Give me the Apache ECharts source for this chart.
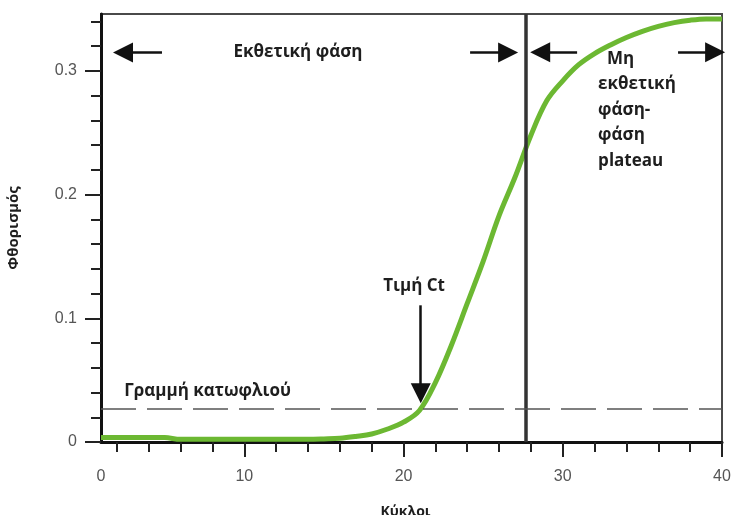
<!DOCTYPE html>
<html>
<head>
<meta charset="utf-8">
<script src="https://cdn.jsdelivr.net/npm/echarts@6/dist/echarts.min.js"></script>
<style>
html,body{margin:0;padding:0;background:#fff;}
#chart{width:732px;height:515px;}
</style>
</head>
<body>
<div id="chart"></div>
<script>
// ---- data ----
const cycles = [1,2,3,4,5,6,7,8,9,10,11,12,13,14,15,16,17,18,19,20,21,22,23,24,25,26,27,28,29,30,31,32,33,34,35,36,37,38,39,40];
const fluorescence = [0.0037,0.0037,0.0037,0.0037,0.0036,0.0022,0.0022,0.0022,0.0022,0.0022,0.0022,0.0022,0.0022,0.0022,0.0025,0.003,0.0045,0.0065,0.0105,0.016,0.0255,0.048,0.078,0.112,0.146,0.183,0.214,0.248,0.276,0.292,0.305,0.314,0.321,0.327,0.332,0.336,0.339,0.341,0.342,0.342];

const xTickValues = [2,4,6,8,10,12,14,16,18,20,22,24,26,28,30,32,34,36,38,40];
const xMajorTickValues = [10,20,30,40];
const xLabelValues = [1,10,20,30,40];
const xLabelTexts = ['0','10','20','30','40'];

const yTickValues = [0,0.02,0.04,0.06,0.08,0.1,0.12,0.14,0.16,0.18,0.2,0.22,0.24,0.26,0.28,0.3,0.32,0.34];
const yMajorTickValues = [0,0.1,0.2,0.3];
const yLabelValues = [0,0.1,0.2,0.3];
const yLabelTexts = ['0','0.1','0.2','0.3'];

const thresholdValue = 0.027;
const ctCycle = 21.08;
const phaseBoundaryCycle = 27.7;

const xAxisName = 'Κύκλοι';
const yAxisName = 'Φθορισμός';
const expPhaseText = 'Εκθετική φάση';
const plateauText = '  Μη\nεκθετική\nφάση-\nφάση\nplateau';
const ctText = 'Τιμή Ct';
const thresholdText = 'Γραμμή κατωφλιού';

// ---- chart ----
const chart = echarts.init(document.getElementById('chart'), null, {renderer: 'canvas'});
const annFont = {fontFamily: '"Open Sans", sans-serif', fontWeight: 'bold', fontSize: 17, color: '#1e1e1e'};
const arrowStyle = {color: '#111', width: 2.5, type: 'solid'};

function arrow(c1, v1, c2, v2) {
  return [
    {coord: [c1, v1], symbol: 'none', lineStyle: arrowStyle},
    {coord: [c2, v2], symbol: 'triangle', symbolSize: 20}
  ];
}
function textMark(text, c, v, align) {
  return {
    coord: [c, v], symbol: 'circle', symbolSize: 1,
    itemStyle: {color: 'rgba(0,0,0,0)'},
    label: Object.assign({show: true, formatter: text, position: 'inside', align: align || 'center', verticalAlign: 'middle', lineHeight: 25.5}, annFont)
  };
}

const xMin = 1, xMax = 40, yMin = 0, yMax = 0.346;

chart.setOption({
  animation: false,
  backgroundColor: '#fff',
  grid: {left: 101, right: 10, top: 14, bottom: 73, containLabel: false, outerBoundsMode: 'none',
    show: true, borderColor: '#4a4a4a', borderWidth: 2, backgroundColor: 'rgba(0,0,0,0)'},
  xAxis: [
    {
      type: 'value', min: xMin, max: xMax, position: 'bottom',
      name: xAxisName, nameLocation: 'middle', nameGap: 63,
      nameTextStyle: {fontFamily: '"Open Sans", sans-serif', fontWeight: 'bold', fontSize: 14, color: '#1e1e1e', padding: [0, 12, 0, 0]},
      axisLine: {show: true, onZero: false, lineStyle: {color: '#111', width: 3}},
      axisTick: {show: true, customValues: xTickValues, length: 10, lineStyle: {color: '#222', width: 2}},
      axisLabel: {show: true, customValues: xLabelValues, margin: 27, fontFamily: '"Liberation Sans", Arial, sans-serif', fontSize: 16, color: '#555',
        formatter: function (v) { const i = xLabelValues.indexOf(v); return i >= 0 ? xLabelTexts[i] : ''; }},
      splitLine: {show: false}
    },
    {
      type: 'value', min: xMin, max: xMax, position: 'bottom', offset: 0,
      axisLine: {show: false},
      axisTick: {show: true, customValues: xMajorTickValues, length: 15, lineStyle: {color: '#222', width: 2}},
      axisLabel: {show: false},
      splitLine: {show: false}
    }
  ],
  yAxis: [
    {
      type: 'value', min: yMin, max: yMax, position: 'left',
      name: yAxisName, nameLocation: 'middle', nameGap: 80, nameRotate: 90,
      nameTextStyle: {fontFamily: '"Open Sans", sans-serif', fontWeight: 'bold', fontSize: 15, color: '#1e1e1e'},
      axisLine: {show: true, onZero: false, lineStyle: {color: '#111', width: 3}},
      axisTick: {show: true, customValues: yTickValues, length: 10, lineStyle: {color: '#222', width: 2}},
      axisLabel: {show: true, customValues: yLabelValues, margin: 24, fontFamily: '"Liberation Sans", Arial, sans-serif', fontSize: 16, color: '#555',
        formatter: function (v) { for (let i = 0; i < yLabelValues.length; i++) { if (Math.abs(yLabelValues[i] - v) < 1e-9) return yLabelTexts[i]; } return ''; }},
      splitLine: {show: false}
    },
    {
      type: 'value', min: yMin, max: yMax, position: 'left', offset: 0,
      axisLine: {show: false},
      axisTick: {show: true, customValues: yMajorTickValues, length: 16, lineStyle: {color: '#222', width: 2}},
      axisLabel: {show: false},
      splitLine: {show: false}
    }
  ],
  series: [
    {
      type: 'line',
      xAxisIndex: 0, yAxisIndex: 0,
      data: cycles.map(function (c, i) { return [c, fluorescence[i]]; }),
      smooth: 0.35,
      showSymbol: false,
      symbol: 'none',
      clip: false,
      lineStyle: {color: '#6cb832', width: 5},
      z: 3,
      markLine: {
        silent: true,
        animation: false,
        label: {show: false},
        data: [
          [{xAxis: phaseBoundaryCycle, yAxis: yMin, symbol: 'none', lineStyle: {color: '#333', width: 3.5, type: 'solid'}}, {xAxis: phaseBoundaryCycle, yAxis: yMax, symbol: 'none'}],
          [{xAxis: xMin, yAxis: thresholdValue, symbol: 'none', lineStyle: {color: '#555', width: 1.6, type: [35, 11]}}, {xAxis: xMax, yAxis: thresholdValue, symbol: 'none'}],
          arrow(4.83, 0.3148, 2.38, 0.3148),
          arrow(24.18, 0.3148, 26.57, 0.3148),
          arrow(30.9, 0.3150, 28.58, 0.3150),
          arrow(37.24, 0.3150, 39.57, 0.3150),
          arrow(ctCycle, 0.1105, ctCycle, 0.0394)
        ]
      },
      markPoint: {
        silent: true,
        animation: false,
        data: [
          textMark(expPhaseText, 13.37, 0.3153),
          textMark(thresholdText, 7.69, 0.0412),
          textMark(ctText, 20.66, 0.1261),
          textMark(plateauText, 32.22, 0.2686, 'left')
        ]
      }
    }
  ]
});
</script>
</body>
</html>
